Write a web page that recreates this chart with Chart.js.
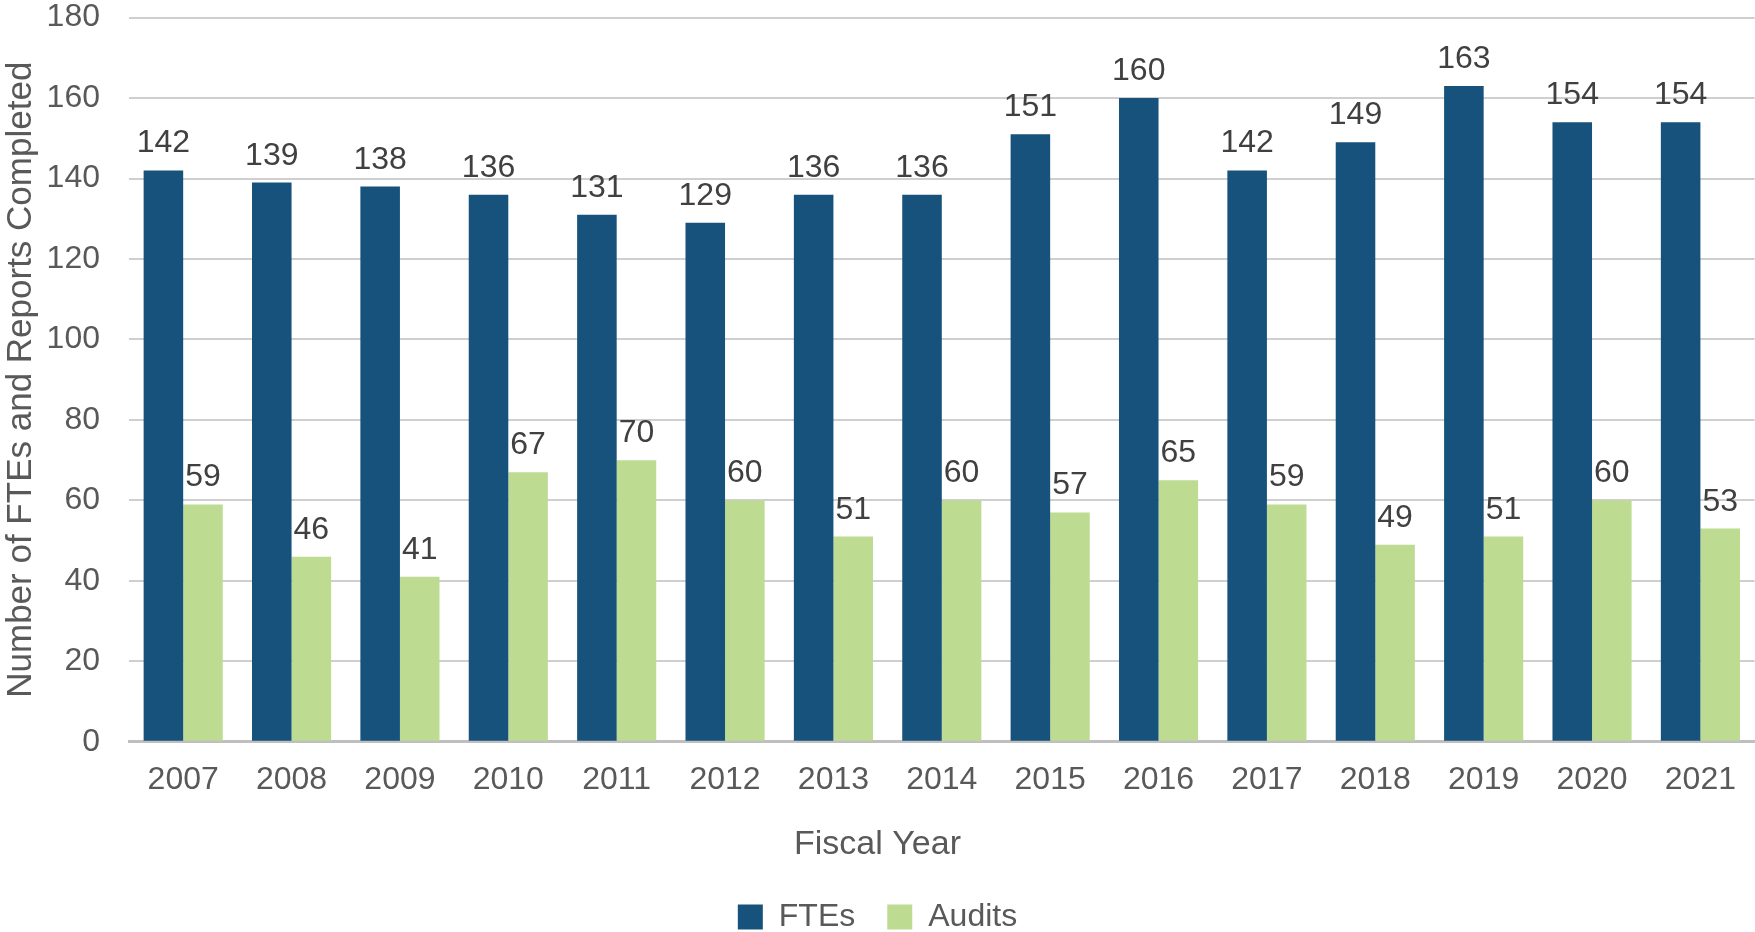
<!DOCTYPE html>
<html>
<head>
<meta charset="utf-8">
<script src="https://cdn.jsdelivr.net/npm/chart.js@4/dist/chart.umd.min.js"></script>
<style>
  body { margin: 0; background: #fff; }
  #wrap { width: 1755px; height: 932px; }
</style>
</head>
<body>
<div id="wrap"><canvas id="chart"></canvas></div>
<script>
// data
const years = ['2007', '2008', '2009', '2010', '2011', '2012', '2013', '2014', '2015', '2016', '2017', '2018', '2019', '2020', '2021'];
const ftes = [142, 139, 138, 136, 131, 129, 136, 136, 151, 160, 142, 149, 163, 154, 154];
const audits = [59, 46, 41, 67, 70, 60, 51, 60, 57, 65, 59, 49, 51, 60, 53];

const FONT = 'Arial, "Liberation Sans", sans-serif';
const grey = '#595959';

// value labels above each bar
const barLabels = {
    id: 'barLabels',
    afterDatasetsDraw(chart) {
        const ctx = chart.ctx;
        ctx.save();
        ctx.font = '32px ' + FONT;
        ctx.fillStyle = '#404040';
        ctx.textAlign = 'center';
        ctx.textBaseline = 'alphabetic';
        chart.data.datasets.forEach((ds, i) => {
            chart.getDatasetMeta(i).data.forEach((bar, j) => {
                ctx.fillText(ds.data[j], bar.x, bar.y - 18);
            });
        });
        ctx.restore();
    }
};

new Chart(document.getElementById('chart'), {
    type: 'bar',
    data: {
        labels: years,
        datasets: [
            { label: 'FTEs', data: ftes, backgroundColor: '#17527C' },
            { label: 'Audits', data: audits, backgroundColor: '#BDDB91' }
        ]
    },
    options: {
        responsive: true,
        maintainAspectRatio: false,
        animation: false,
        layout: { padding: { top: 0, right: 0, left: 0, bottom: -11 } },
        datasets: { bar: { categoryPercentage: 0.73, barPercentage: 1.0 } },
        scales: {
            x: {
                grid: { display: false, drawTicks: false },
                border: { color: '#BFBFBF', width: 3 },
                ticks: { color: grey, padding: 19, font: { family: FONT, size: 32 } }
            },
            y: {
                min: 0,
                max: 180,
                afterFit(scale) { scale.width = 129; },
                ticks: { stepSize: 20, color: grey, padding: 0, font: { family: FONT, size: 32, lineHeight: 1.1 } },
                grid: { color: '#CFCFCF', lineWidth: 2, drawTicks: true, tickLength: 29, tickColor: 'rgba(0,0,0,0)' },
                border: { display: false },
                title: {
                    display: true,
                    text: 'Number of FTEs and Reports Completed',
                    color: grey,
                    font: { family: FONT, size: 35 },
                    padding: 0
                }
            }
        },
        plugins: {
            tooltip: { enabled: false },
            title: {
                display: true,
                text: 'Fiscal Year',
                position: 'bottom',
                weight: 500,
                color: grey,
                font: { family: FONT, size: 34, weight: 'normal' },
                padding: { top: 6, bottom: 4 }
            },
            legend: {
                position: 'bottom',
                labels: {
                    color: grey,
                    boxWidth: 25,
                    boxHeight: 25,
                    padding: 32,
                    font: { family: FONT, size: 32 }
                }
            }
        }
    },
    plugins: [barLabels]
});
</script>
</body>
</html>
